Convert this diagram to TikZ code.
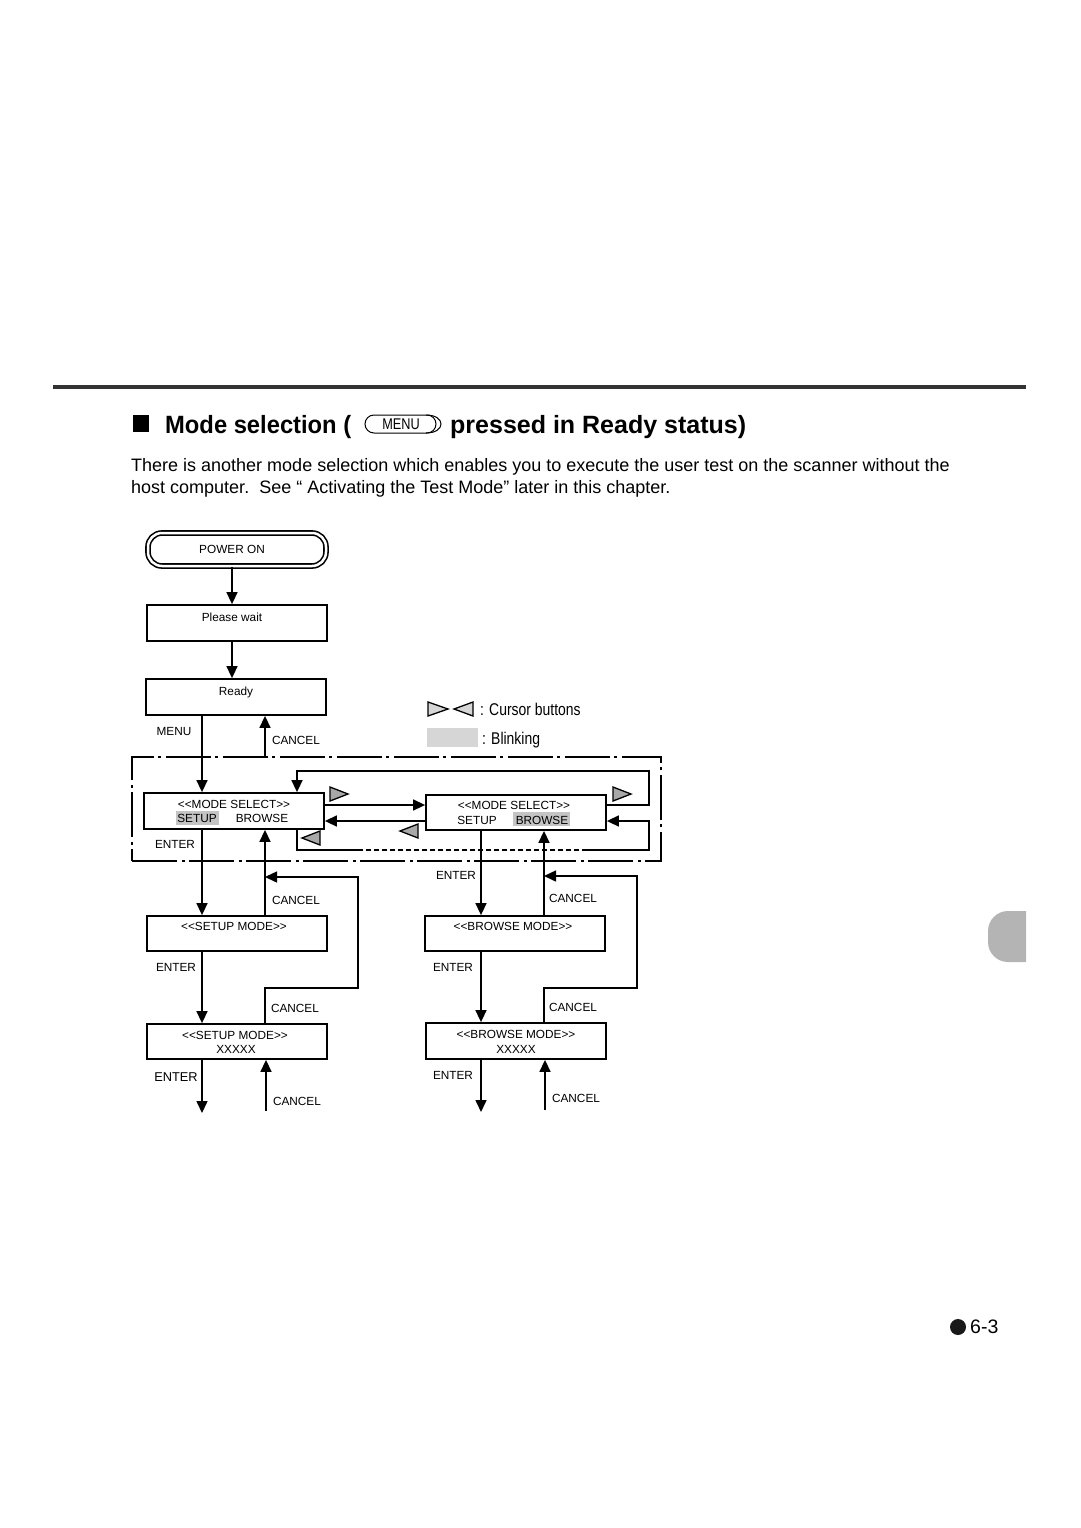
\documentclass[tikz,border=0pt]{standalone}
\usepackage{fontspec}
\setmainfont{Liberation Sans}
\newfontfamily\narrowfont[FakeStretch=0.82]{Liberation Sans}
\newfontfamily\bodyfont{Liberation Sans}
\newfontfamily\headfont[FakeStretch=0.95]{Liberation Sans}
\newcommand\dlt{<\kern0pt<}
\newcommand\dgt{>\kern0pt>}
\usetikzlibrary{arrows.meta,calc}
\definecolor{rulegray}{HTML}{333333}
\definecolor{tabgray}{HTML}{B4B4B4}
\definecolor{blinkgray}{HTML}{C4C4C4}
\definecolor{cursgray}{HTML}{A8A8A8}
\definecolor{legendgray}{HTML}{D6D6D6}
\tikzset{
  x=1pt, y=-1pt,
  box/.style={draw, line width=1.8pt, minimum width=180pt, minimum height=36pt, inner sep=0pt},
  lbl/.style={font=\fontsize{11.8}{13}\selectfont, inner sep=0pt, anchor=base},
  conn/.style={line width=1.5pt},
  arr/.style={line width=1.5pt, -{Triangle[length=12pt,width=11pt]}},
  curs/.style={draw, line width=1.3pt, fill=cursgray, line join=miter},
  framebox/.style={draw, line width=1.3pt, dash pattern=on 45pt off 5pt on 3pt off 4pt, minimum width=529pt, minimum height=104pt, inner sep=0pt},
}
\begin{document}
\begin{tikzpicture}
\useasboundingbox (0,0) rectangle (1080,1528);
% top rule
\draw[rulegray, line width=4pt] (53,387) -- (1026,387);
% heading
\fill (133,415) rectangle (149,432);
\node[inner sep=0pt, anchor=base west, font=\headfont\bfseries\fontsize{25}{28}\selectfont] (h1) at (165,433) {Mode selection (};
\draw[line width=1pt, rounded corners=9pt] (365,415) rectangle (436,433);
\draw[line width=1pt] (426,415) .. controls (446,415) and (446,433) .. (426,433);
\node[inner sep=0pt, font=\narrowfont\fontsize{15.5}{17}\selectfont] (menukey) at (401,424.5) {MENU};
\node[inner sep=0pt, anchor=base west, font=\bodyfont\bfseries\fontsize{25}{28}\selectfont] (h2) at (450,433) {pressed in Ready status)};
% body
\node[inner sep=0pt, anchor=base west, font=\bodyfont\fontsize{18}{21}\selectfont] (b1) at (131,471) {There is another mode selection which enables you to execute the user test on the scanner without the};
\node[inner sep=0pt, anchor=base west, font=\bodyfont\fontsize{18}{21}\selectfont] (b2) at (131,493) {host computer.\ \ See \textquotedblleft\ Activating the Test Mode\textquotedblright\ later in this chapter.};

% column / row coordinates
\coordinate (xP) at (232,0);
\coordinate (xA) at (202,0);
\coordinate (xB) at (265,0);
\coordinate (xD) at (481,0);
\coordinate (xE) at (544,0);
\coordinate (yU) at (0,805);
\coordinate (yL) at (0,821);
\coordinate (tr) at (649,771);
\coordinate (tl) at (297,771);
\coordinate (bl) at (297,850);
\coordinate (bm1) at (358,850);
\coordinate (bm2) at (587,850);
\coordinate (br) at (649,850);
\coordinate (lc1) at (358,877);
\coordinate (lc2) at (358,988);
\coordinate (rc1) at (637,876);
\coordinate (rc2) at (637,988);
\coordinate (endA) at (202,1113);
\coordinate (startB) at (266,1111);
\coordinate (endD) at (481,1112);
\coordinate (startE) at (545,1110);

% frame
\node[framebox] (frame) at (396.5,809) {};

% boxes
\node[draw, line width=1.6pt, double, double distance=2.5pt, rounded corners=14pt, minimum width=178pt, minimum height=33pt, inner sep=0pt] (pw) at (237,549.5) {};
\node[box] (pwait) at (237,623) {};
\node[box] (ready) at (236,697) {};
\node[box] (msL) at (234,811) {};
\node[box, minimum height=35pt] (msR) at (516,812.5) {};
\node[box, minimum height=35pt] (smode) at (237,933.5) {};
\node[box, minimum height=35pt] (bmode) at (515,933.5) {};
\node[box, minimum height=35pt] (smx) at (237,1041.5) {};
\node[box] (bmx) at (516,1041) {};

% highlights
\fill[blinkgray] (176,811) rectangle (219,825);
\fill[blinkgray] (513,812) rectangle (570,826);

% labels
\node[lbl] (tPW) at (232,553) {POWER ON};
\node[lbl] (tPWt) at (232,621) {Please wait};
\node[lbl] (tRd) at (236,695) {Ready};
\node[lbl] (tMenu) at (174,735) {MENU};
\node[lbl] (tC0) at (296,744) {CANCEL};
\node[lbl] (tMS1) at (234,808) {\dlt MODE SELECT\dgt};
\node[lbl] (tSU1) at (197,822) {SETUP};
\node[lbl] (tBR1) at (262,822) {BROWSE};
\node[lbl] (tE1) at (175,848) {ENTER};
\node[lbl] (tMS2) at (514,809) {\dlt MODE SELECT\dgt};
\node[lbl] (tSU2) at (477,824) {SETUP};
\node[lbl] (tBR2) at (542,824) {BROWSE};
\node[lbl] (tE2) at (456,879) {ENTER};
\node[lbl] (tC1) at (296,904) {CANCEL};
\node[lbl] (tC2) at (573,902) {CANCEL};
\node[lbl] (tSM) at (234,930) {\dlt SETUP MODE\dgt};
\node[lbl] (tBM) at (513,930) {\dlt BROWSE MODE\dgt};
\node[lbl] (tE3) at (176,971) {ENTER};
\node[lbl] (tE4) at (453,971) {ENTER};
\node[lbl] (tC3) at (295,1012) {CANCEL};
\node[lbl] (tC4) at (573,1011) {CANCEL};
\node[lbl] (tSMX) at (235,1039) {\dlt SETUP MODE\dgt};
\node[lbl] (tSMXx) at (236,1053) {XXXXX};
\node[lbl] (tBMX) at (516,1038) {\dlt BROWSE MODE\dgt};
\node[lbl] (tBMXx) at (516,1053) {XXXXX};
\node[lbl, font=\fontsize{12.8}{14}\selectfont] (tE5) at (176,1081) {ENTER};
\node[lbl] (tE6) at (453,1079) {ENTER};
\node[lbl] (tC5) at (297,1105) {CANCEL};
\node[lbl] (tC6) at (576,1102) {CANCEL};

% connectors
\draw[arr] (pw.south -| xP) -- (pwait.north -| xP);
\draw[arr] (pwait.south -| xP) -- (ready.north -| xP);
\draw[arr] (ready.south -| xA) -- (msL.north -| xA);
\draw[arr] (frame.north -| xB) -- (ready.south -| xB);
\draw[arr] (msL.east |- yU) -- (msR.west |- yU);
\draw[arr] (msR.west |- yL) -- (msL.east |- yL);
\draw[arr] (msR.east |- yU) -- (tr |- yU) -- (tr) -- (tl) -- (msL.north -| tl);
\draw[conn] (msL.south -| bl) -- (bl) -- (bm1);
\draw[conn, dash pattern=on 5pt off 3pt] (bm1) -- (bm2);
\draw[arr] (bm2) -- (br) -- (br |- yL) -- (msR.east |- yL);
% left column
\draw[arr] (msL.south -| xA) -- (smode.north -| xA);
\draw[arr] (smode.north -| xB) -- (msL.south -| xB);
\draw[arr] (smx.north -| xB) -- (xB |- lc2) -- (lc2) -- (lc1) -- (xB |- lc1);
\draw[arr] (smode.south -| xA) -- (smx.north -| xA);
\draw[arr] (smx.south -| xA) -- (endA);
\draw[arr] (startB) -- (smx.south -| startB);
% right column
\draw[arr] (msR.south -| xD) -- (bmode.north -| xD);
\draw[arr] (bmode.north -| xE) -- (msR.south -| xE);
\draw[arr] (bmx.north -| xE) -- (xE |- rc2) -- (rc2) -- (rc1) -- (xE |- rc1);
\draw[arr] (bmode.south -| xD) -- (bmx.north -| xD);
\draw[arr] (bmx.south -| xD) -- (endD);
\draw[arr] (startE) -- (bmx.south -| startE);

% cursor triangles
\draw[curs] (330,787) -- (348,794) -- (330,801) -- cycle;
\draw[curs] (613,787) -- (631,794) -- (613,801) -- cycle;
\draw[curs] (320,831) -- (302,838) -- (320,845) -- cycle;
\draw[curs] (418,824) -- (400,831) -- (418,838) -- cycle;

% legend
\draw[curs, fill=legendgray] (428,702) -- (448,709) -- (428,716) -- cycle;
\draw[curs, fill=legendgray] (473,702) -- (454,709) -- (473,716) -- cycle;
\node[inner sep=0pt, anchor=base west, font=\narrowfont\fontsize{17}{20}\selectfont] (lg1) at (480,715) {: Cursor buttons};
\fill[legendgray] (427,728) rectangle (478,747);
\node[inner sep=0pt, anchor=base west, font=\narrowfont\fontsize{17}{20}\selectfont] (lg2) at (482,744) {: Blinking};

% side tab
\fill[tabgray] (1026,911) -- (1008,911) arc[start angle=90, end angle=180, radius=20pt] -- (988,942) arc[start angle=180, end angle=270, radius=20pt] -- (1026,962) -- cycle;

% page number
\fill[black!90] (958,1327) circle[radius=8pt];
\node[inner sep=0pt, anchor=west, font=\fontsize{19.5}{22}\selectfont] (pg) at (970,1327) {6-3};
\end{tikzpicture}
\end{document}
